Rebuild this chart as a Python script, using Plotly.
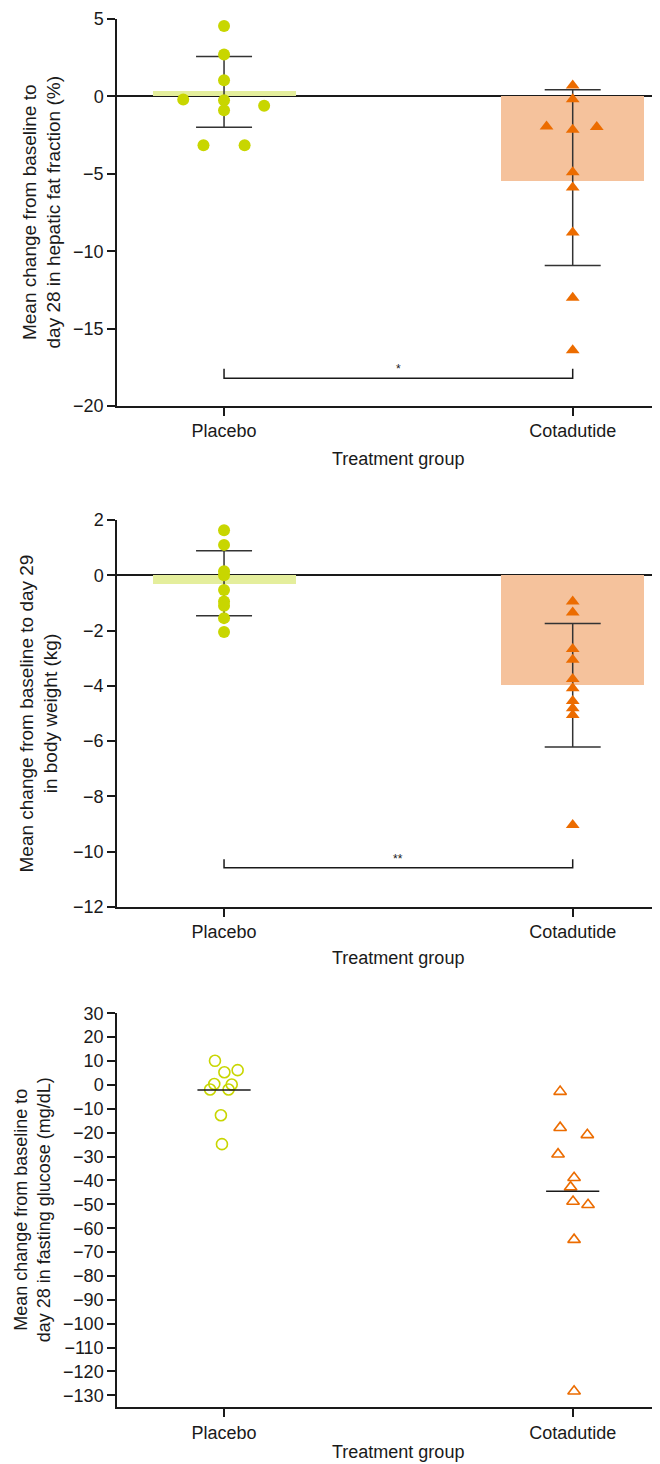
import plotly.graph_objects as go

categories = ["Placebo", "Cotadutide"]

# Panel 1: hepatic fat fraction change (%)
hff_placebo = [4.55, 2.7, 1.05, -0.2, -0.25, -0.6, -0.9, -3.15, -3.15]
hff_cota = [0.7, -0.18, -1.95, -2.15, -1.98, -4.9, -5.88, -8.8, -13.0, -16.4]
hff_mean = [0.35, -5.47]
hff_err_plus = [2.23, 5.9]
hff_err_minus = [2.35, 5.46]
hff_bracket = [-17.6, -18.2]
hff_sig = "*"

# Panel 2: body weight change (kg)
bw_placebo = [1.63, 1.1, 0.15, 0.0, -0.53, -0.95, -1.1, -1.55, -2.05]
bw_cota = [-0.95, -1.35, -2.67, -3.06, -3.75, -4.09, -4.55, -4.81, -5.05, -9.03]
bw_mean = [-0.3, -3.97]
bw_err_plus = [1.19, 2.23]
bw_err_minus = [1.16, 2.24]
bw_bracket = [-10.27, -10.58]
bw_sig = "**"

# Panel 3: fasting glucose change (mg/dL)
fg_placebo = [10.1, 5.3, 6.2, 0.4, 0.2, -1.9, -1.9, -12.7, -24.8]
fg_cota = [-2.8, -17.9, -20.9, -29.0, -38.9, -42.8, -48.8, -50.2, -64.8, -128.3]
fg_mean = [-2.1, -44.5]

# horizontal jitter (category units) for overlapping points
jit_hff_p = [0, 0, 0, -0.117, 0, 0.115, 0, -0.059, 0.059]
jit_hff_c = [0, 0, -0.075, 0, 0.069, 0, 0, 0, 0, 0]
jit_fg_p = [-0.026, 0.001, 0.039, -0.028, 0.022, -0.040, 0.013, -0.009, -0.006]
jit_fg_c = [-0.036, -0.036, 0.042, -0.042, 0.004, -0.006, 0.001, 0.044, 0.004, 0.004]

GREEN = "#c8d600"
GREEN_BAR = "#e4ee9c"
ORANGE = "#ec6c00"
ORANGE_BAR = "#f5c29c"
INK = "#1a1a1a"
FONT = "Liberation Sans, Arial, sans-serif"

OFF = 8.0  # page body margin
W = 660.0 - OFF
H = 1464.0 - OFF
fig = go.Figure()


def fy(p):
    return 1 - (p - OFF) / H


def fx(p):
    return (p - OFF) / W


domains = [
    [fy(406), fy(19)],
    [fy(907), fy(520)],
    [fy(1407.3), fy(1013.3)],
]
XR = [-0.307, 1.2504]


def add_bar_panel(idx, p_vals, c_vals, means, ep, em, jp, jc, bracket, sig):
    xa = "x" if idx == 1 else f"x{idx}"
    ya = "y" if idx == 1 else f"y{idx}"
    fig.add_trace(go.Bar(x=[0, 1], y=means, width=0.41,
                         marker=dict(color=[GREEN_BAR, ORANGE_BAR], line=dict(width=0)),
                         xaxis=xa, yaxis=ya, showlegend=False))
    fig.add_trace(go.Scatter(x=[0, 1], y=means, mode="markers",
                             marker=dict(size=1, opacity=0),
                             error_y=dict(type="data", symmetric=False, array=ep, arrayminus=em,
                                          color="#333333", thickness=1.5, width=28),
                             xaxis=xa, yaxis=ya, showlegend=False))
    fig.add_trace(go.Scatter(x=[0 + j for j in jp], y=p_vals, mode="markers",
                             marker=dict(symbol="circle", size=12, color=GREEN, line=dict(width=0)),
                             xaxis=xa, yaxis=ya, showlegend=False))
    fig.add_trace(go.Scatter(x=[1 + j for j in jc], y=c_vals, mode="markers",
                             marker=dict(symbol="triangle-up", size=12, color=ORANGE, line=dict(width=0)),
                             xaxis=xa, yaxis=ya, showlegend=False))
    fig.add_trace(go.Scatter(x=[0, 0, 1, 1], y=[bracket[0], bracket[1], bracket[1], bracket[0]],
                             mode="lines", line=dict(color=INK, width=1.5),
                             xaxis=xa, yaxis=ya, showlegend=False))
    fig.add_annotation(x=0.5, y=bracket[1], xref=xa, yref=ya, text=sig, showarrow=False,
                       yanchor="bottom", yshift=0, font=dict(size=12, color=INK, family=FONT))


add_bar_panel(1, hff_placebo, hff_cota, hff_mean, hff_err_plus, hff_err_minus,
              jit_hff_p, jit_hff_c, hff_bracket, hff_sig)
add_bar_panel(2, bw_placebo, bw_cota, bw_mean, bw_err_plus, bw_err_minus,
              [0] * len(bw_placebo), [0] * len(bw_cota), bw_bracket, bw_sig)

# Panel 3
fig.add_trace(go.Scatter(x=[0 + j for j in jit_fg_p], y=fg_placebo, mode="markers",
                         marker=dict(symbol="circle-open", size=11, color=GREEN, line=dict(width=1.6)),
                         xaxis="x3", yaxis="y3", showlegend=False))
fig.add_trace(go.Scatter(x=[1 + j for j in jit_fg_c], y=fg_cota, mode="markers",
                         marker=dict(symbol="triangle-up-open", size=11, color=ORANGE, line=dict(width=1.6)),
                         xaxis="x3", yaxis="y3", showlegend=False))
fig.add_trace(go.Scatter(x=[0, 1], y=fg_mean, mode="markers",
                         marker=dict(symbol="line-ew-open", size=38, color=INK, line=dict(width=1.5, color=INK)),
                         xaxis="x3", yaxis="y3", showlegend=False))

axis_font = dict(size=18, color=INK, family=FONT)
yranges = [[-20, 5], [-12, 2], [-135, 30]]
ydticks = [5, 2, 10]
zerolines = [True, True, False]
ytitles = [
    "Mean change from baseline to<br>day 28 in hepatic fat fraction (%)",
    "Mean change from baseline to day 29<br>in body weight (kg)",
    "Mean change from baseline to<br>day 28 in fasting glucose (mg/dL)",
]
ytitle_x = [42, 38, 32]
ytitle_size = [19, 19, 18]
xtitle_y = [459, 958, 1452]

layout = dict(
    template="none",
    width=W, height=H, autosize=False,
    margin=dict(l=0, r=0, t=0, b=0, pad=0),
    paper_bgcolor="white", plot_bgcolor="white",
    font=dict(family=FONT, size=18, color=INK),
    bargap=0,
)
for i in range(3):
    sfx = "" if i == 0 else str(i + 1)
    anchor_y = "y" if i == 0 else f"y{i + 1}"
    anchor_x = "x" if i == 0 else f"x{i + 1}"
    layout[f"xaxis{sfx}"] = dict(
        domain=[fx(117), 1.0], range=XR, anchor=anchor_y, automargin=False,
        tickmode="array", tickvals=[0, 1], ticktext=categories,
        showline=True, linecolor=INK, linewidth=1.5,
        ticks="outside", ticklen=8, tickwidth=1.5, tickcolor=INK,
        showgrid=False, zeroline=False, tickfont=axis_font, fixedrange=True,
    )
    layout[f"yaxis{sfx}"] = dict(
        domain=domains[i], range=yranges[i], anchor=anchor_x, automargin=False,
        dtick=ydticks[i], tick0=0,
        showline=True, linecolor=INK, linewidth=1.5,
        ticks="outside", ticklen=8, tickwidth=1.5, tickcolor=INK,
        showgrid=False, zeroline=zerolines[i], zerolinecolor=INK, zerolinewidth=1.5,
        tickfont=axis_font, fixedrange=True,
    )
fig.update_layout(**layout)

for i in range(3):
    d = domains[i]
    fig.add_annotation(x=fx(ytitle_x[i]), y=(d[0] + d[1]) / 2, xref="paper", yref="paper",
                       text=ytitles[i], textangle=-90, showarrow=False,
                       xanchor="center", yanchor="middle", align="center",
                       font=dict(size=ytitle_size[i], color=INK, family=FONT))
    fig.add_annotation(x=fx((224 + 572.7) / 2), y=fy(xtitle_y[i]), xref="paper", yref="paper",
                       text="Treatment group", showarrow=False,
                       xanchor="center", yanchor="middle",
                       font=dict(size=18, color=INK, family=FONT))

fig.write_html("out.html")
